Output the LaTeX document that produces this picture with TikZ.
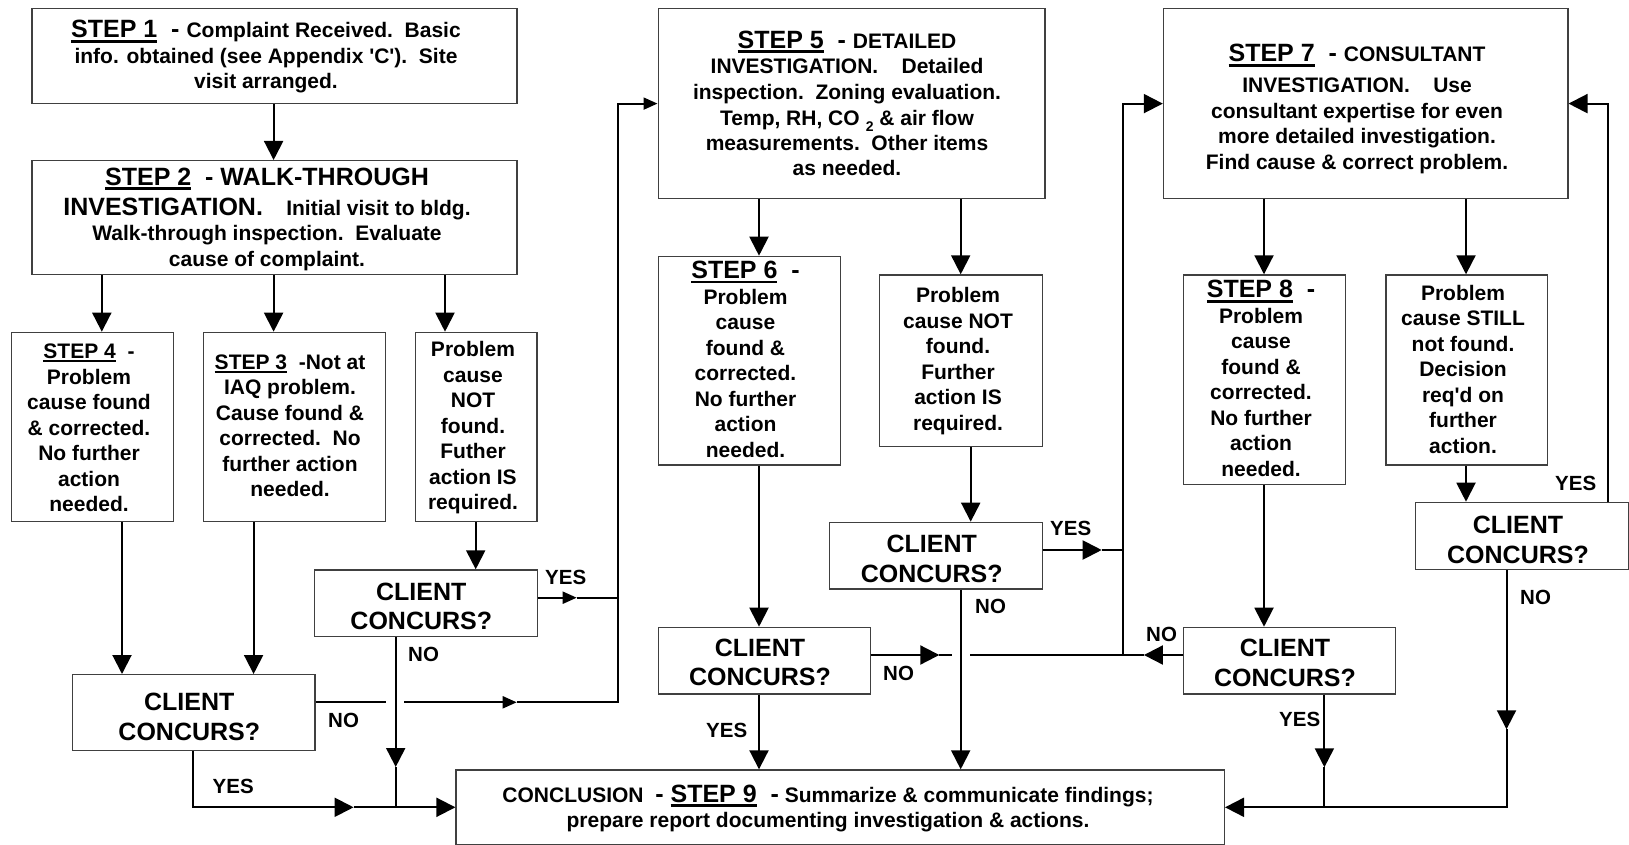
\documentclass[tikz,border=0pt]{standalone}
\usepackage{fontspec}
\setmainfont{Liberation Sans}
\usetikzlibrary{arrows.meta}
\newcommand\stepul[1]{\setbox0\hbox{#1}\rlap{\rule[-0.19em]{\wd0}{0.11em}}\box0}
\newcommand\bigf{\fontsize{25}{30}\selectfont}
\newcommand\topfix{\rule{0pt}{20pt}}
\tikzset{
  rbox/.style={draw=black!75, line width=1.2pt, inner sep=0pt, anchor=north west},
  txt/.style={font=\fontsize{21}{25.5}\selectfont\bfseries, align=center, inner sep=0pt, anchor=north},
  cc/.style={font=\fontsize{25}{29.5}\selectfont\bfseries, align=center, inner sep=0pt, anchor=north},
  yn/.style={font=\fontsize{20.5}{24}\selectfont\bfseries, inner sep=0pt, anchor=base west},
  conn/.style={line width=2pt, draw=black},
  bigtip/.style={-{Triangle[length=19pt,width=19pt]}},
  smalltip/.style={-{Triangle[length=14pt,width=12pt]}},
}
\begin{document}
\begin{tikzpicture}[x=1pt,y=-1pt]
\useasboundingbox (0,0) rectangle (1629,845);

% ---------- boxes ----------
\node[rbox, minimum width=485pt, minimum height=95pt] (b1) at (31.4,8) {};
\node[rbox, minimum width=485pt, minimum height=114pt] (b2) at (31.4,160) {};
\node[rbox, minimum width=161.5pt, minimum height=189.3pt] (b4) at (11,331.7) {};
\node[rbox, minimum width=182.5pt, minimum height=189.3pt] (b3) at (202.5,331.7) {};
\node[rbox, minimum width=121.4pt, minimum height=189.3pt] (bN2) at (415,331.7) {};
\node[rbox, minimum width=223pt, minimum height=66.7pt] (cl2) at (313.5,569.3) {};
\node[rbox, minimum width=242.5pt, minimum height=76pt] (cl4) at (71.8,674) {};
\node[rbox, minimum width=768.4pt, minimum height=74.7pt] (concl) at (455.4,769.3) {};
\node[rbox, minimum width=386.8pt, minimum height=190pt] (b5) at (657.5,8) {};
\node[rbox, minimum width=182.1pt, minimum height=208.6pt] (b6) at (657.5,255.7) {};
\node[rbox, minimum width=162.8pt, minimum height=171.4pt] (bN5) at (879,274.3) {};
\node[rbox, minimum width=212.7pt, minimum height=66.6pt] (cl5) at (829,521.7) {};
\node[rbox, minimum width=212.1pt, minimum height=66.6pt] (cl6) at (657.5,626.7) {};
\node[rbox, minimum width=404.5pt, minimum height=190pt] (b7) at (1162.8,8) {};
\node[rbox, minimum width=162pt, minimum height=209.7pt] (b8) at (1183,274.3) {};
\node[rbox, minimum width=161.6pt, minimum height=190pt] (bS) at (1385.4,274.3) {};
\node[rbox, minimum width=212.2pt, minimum height=66.6pt] (cl8) at (1183,626.7) {};
\node[rbox, minimum width=212.7pt, minimum height=67.3pt] (cl7) at (1415,501.7) {};

% ---------- texts ----------
\node[txt] (t1) at (266,17.7) {\topfix{\bigf\stepul{STEP 1}\ \ -\ }Complaint Received.\ \ Basic\\ info. obtained (see Appendix \textquotesingle C\textquotesingle).\ \ Site\\ visit arranged.};
\node[txt] (t2) at (267,165) {\topfix{\bigf\stepul{STEP 2}\ \ - WALK-THROUGH}\\[4.4pt]{\bigf INVESTIGATION.}\ \ \ \ Initial visit to bldg.\\ Walk-through inspection.\ \ Evaluate\\ cause of complaint.};
\node[txt] (t4) at (89,338.3) {\topfix\stepul{STEP 4}\ \ -\\ Problem\\ cause found\\ \& corrected.\\ No further\\ action\\ needed.};
\node[txt] (t3) at (290,349) {\topfix\stepul{STEP 3}\ \ -Not at\\ IAQ problem.\\ Cause found \&\\ corrected.\ \ No\\ further action\\ needed.};
\node[txt] (tN2) at (473,336.7) {\topfix Problem\\ cause\\ NOT\\ found.\\ Futher\\ action IS\\ required.};
\node[txt] (t5) at (847,28.3) {\topfix{\bigf\stepul{STEP 5}\ \ -\ }DETAILED\\ INVESTIGATION.\ \ \ \ Detailed\\ inspection.\ \ Zoning evaluation.\\ Temp, RH, CO\hspace{6pt}\raisebox{-6.5pt}{\fontsize{14}{14}\selectfont 2}\ \& air flow\\ measurements.\ \ Other items\\ as needed.};
\node[txt] (t6) at (745.5,258.3) {\topfix{\bigf\stepul{STEP 6}\ \ -}\\ Problem\\ cause\\ found \&\\ corrected.\\ No further\\ action\\ needed.};
\node[txt] (tN5) at (958,282.7) {\topfix Problem\\ cause NOT\\ found.\\ Further\\ action IS\\ required.};
\node[txt] (t7) at (1357,41.7) {\topfix{\bigf\stepul{STEP 7}\ \ -\ }CONSULTANT\\[5.4pt] INVESTIGATION.\ \ \ \ Use\\ consultant expertise for even\\ more detailed investigation.\\ Find cause \& correct problem.};
\node[txt] (t8) at (1261,277.7) {\topfix{\bigf\stepul{STEP 8}\ \ -}\\ Problem\\ cause\\ found \&\\ corrected.\\ No further\\ action\\ needed.};
\node[txt] (tS) at (1463,280) {\topfix Problem\\ cause STILL\\ not found.\\ Decision\\ req\textquotesingle d on\\ further\\ action.};
\node[txt] (tcon) at (828,782) {\topfix CONCLUSION\ \ {\bigf -\ \stepul{STEP 9}\ \ -}\ Summarize \& communicate findings;\\ prepare report documenting investigation \& actions.};

\node[cc] (tc2) at (421.3,580) {\topfix CLIENT\\ CONCURS?};
\node[cc] (tc4) at (189.3,690.7) {\topfix CLIENT\\ CONCURS?};
\node[cc] (tc5) at (931.7,532.7) {\topfix CLIENT\\ CONCURS?};
\node[cc] (tc6) at (760,636) {\topfix CLIENT\\ CONCURS?};
\node[cc] (tc8) at (1285,636.7) {\topfix CLIENT\\ CONCURS?};
\node[cc] (tc7) at (1518,513.3) {\topfix CLIENT\\ CONCURS?};

% ---------- YES / NO ----------
\node[yn] (y2) at (545,584.3) {YES};
\node[yn] (n2) at (408,661.7) {NO};
\node[yn] (n4) at (328,727) {NO};
\node[yn] (y4) at (212.5,793) {YES};
\node[yn] (y5) at (1050,535.7) {YES};
\node[yn] (n5) at (975,613.3) {NO};
\node[yn] (n6) at (883,680) {NO};
\node[yn] (y6) at (706,737) {YES};
\node[yn] (n8) at (1146,641.7) {NO};
\node[yn] (y8) at (1279,726.7) {YES};
\node[yn] (y7) at (1555,490) {YES};
\node[yn] (n7) at (1520,604) {NO};

% ---------- coordinates ----------
\coordinate (tA) at (576.7,597.7);
\coordinate (jA) at (617.7,597.7);
\coordinate (tB) at (395.7,767);
\coordinate (jB) at (395.7,807.3);
\coordinate (tC) at (353.6,807.3);
\coordinate (tD) at (1101.7,550);
\coordinate (jD) at (1122.7,550);
\coordinate (jE) at (1122.7,655);
\coordinate (tF) at (939.3,655);
\coordinate (gF1) at (951.7,655);
\coordinate (gF2) at (970,655);
\coordinate (tG) at (1143.9,655);
\coordinate (tH) at (1506.5,729.3);
\coordinate (jH) at (1506.5,807.3);
\coordinate (tI) at (1324.4,767.3);
\coordinate (jI) at (1324.4,807.3);
\coordinate (tJ) at (516.7,702.3);
\coordinate (jJ) at (617.7,702.3);
\coordinate (gJ1) at (386,702.3);
\coordinate (gJ2) at (404,702.3);

% ---------- connectors ----------
\draw[conn,bigtip] (b1.south -| 273.6,0) -- (b2.north -| 273.6,0);
\draw[conn,bigtip] (b2.south -| 101.8,0) -- (b4.north -| 101.8,0);
\draw[conn,bigtip] (b2.south -| 273.6,0) -- (b3.north -| 273.6,0);
\draw[conn,bigtip] (b2.south -| 445,0) -- (bN2.north -| 445,0);
\draw[conn,bigtip] (b4.south -| 122,0) -- (cl4.north -| 122,0);
\draw[conn,bigtip] (b3.south -| 253.6,0) -- (cl4.north -| 253.6,0);
\draw[conn,bigtip] (bN2.south -| 475.7,0) -- (cl2.north -| 475.7,0);
% client (step 2) YES -> step 5
\draw[conn,smalltip] (cl2.east |- tA) -- (tA);
\draw[conn,smalltip] (tA) -- (jA) |- (b5.west);
% client (step 2) NO -> conclusion
\draw[conn,bigtip] (cl2.south -| tB) -- (tB);
\draw[conn] (tB) -- (jB);
% client (step 3/4) NO -> step 5
\draw[conn] (cl4.east |- tJ) -- (gJ1);
\draw[conn,smalltip] (gJ2) -- (tJ);
\draw[conn] (tJ) -- (jJ) -- (jA);
% client (step 3/4) YES -> conclusion
\draw[conn,bigtip] (cl4.south -| 193,0) |- (tC);
\draw[conn,bigtip] (tC) -- (concl.west |- tC);
% step 5
\draw[conn,bigtip] (b5.south -| 759,0) -- (b6.north -| 759,0);
\draw[conn,bigtip] (b5.south -| 960.7,0) -- (bN5.north -| 960.7,0);
\draw[conn,bigtip] (b6.south -| 759,0) -- (cl6.north -| 759,0);
\draw[conn,bigtip] (bN5.south -| 970.7,0) -- (cl5.north -| 970.7,0);
% client (step 5) YES -> step 7
\draw[conn,bigtip] (cl5.east |- tD) -- (tD);
\draw[conn] (tD) -- (jD);
\draw[conn,bigtip] (jE) |- (b7.west);
% client (step 5) NO -> conclusion
\draw[conn,bigtip] (cl5.south -| 960.7,0) -- (concl.north -| 960.7,0);
% client (step 6) NO -> step 7
\draw[conn,bigtip] (cl6.east |- tF) -- (tF);
\draw[conn] (tF) -- (gF1);
\draw[conn] (gF2) -- (jE);
% client (step 6) YES -> conclusion
\draw[conn,bigtip] (cl6.south -| 759,0) -- (concl.north -| 759,0);
% step 7
\draw[conn,bigtip] (b7.south -| 1264,0) -- (b8.north -| 1264,0);
\draw[conn,bigtip] (b7.south -| 1466,0) -- (bS.north -| 1466,0);
\draw[conn,bigtip] (b8.south -| 1264,0) -- (cl8.north -| 1264,0);
\draw[conn,bigtip] (bS.south -| 1466,0) -- (cl7.north -| 1466,0);
% client (step 8) NO -> step 7
\draw[conn,bigtip] (cl8.west |- tG) -- (tG);
\draw[conn] (tG) -- (jE);
% client (step 8) YES -> conclusion
\draw[conn,bigtip] (cl8.south -| tI) -- (tI);
\draw[conn] (tI) -- (jI);
% client (still) YES -> step 7
\draw[conn,bigtip] (cl7.north -| 1607.7,0) |- (b7.east);
% client (still) NO -> conclusion
\draw[conn,bigtip] (cl7.south -| tH) -- (tH);
\draw[conn,bigtip] (tH) -- (jH) -- (concl.east |- jH);
\end{tikzpicture}
\end{document}
